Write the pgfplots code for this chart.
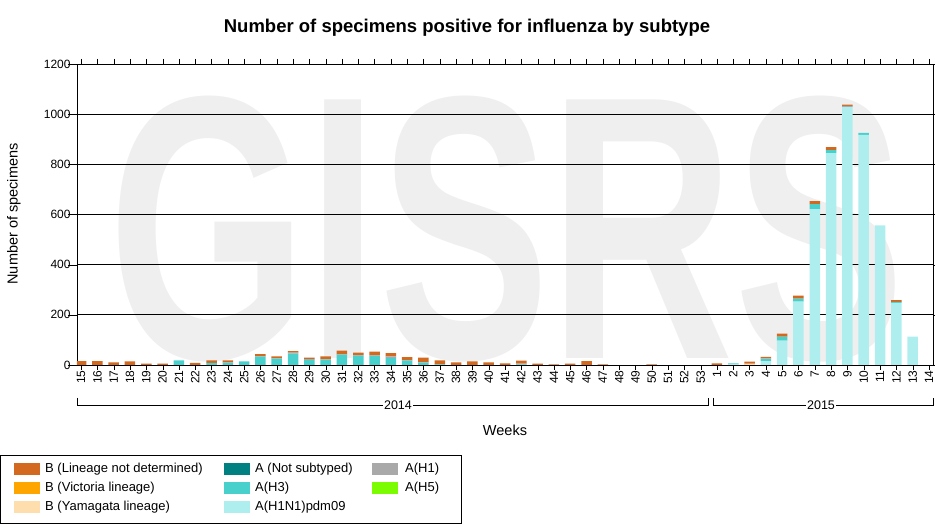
\documentclass[border=0pt]{standalone}
\usepackage{pgfplots}
\usepackage{pgfplotstable}
\pgfplotsset{compat=1.18}
\usepackage{fontspec}
\setmainfont{Liberation Sans}
\definecolor{cBLND}{HTML}{D2691E}
\definecolor{cVIC}{HTML}{FFA500}
\definecolor{cYAM}{HTML}{FFDEAD}
\definecolor{cNS}{HTML}{008080}
\definecolor{cH3}{HTML}{48D1CC}
\definecolor{cPDM}{HTML}{AFEEEE}
\definecolor{cH1}{HTML}{A9A9A9}
\definecolor{cH5}{HTML}{7CFC00}
\definecolor{wm}{HTML}{EFEFEF}
\pgfplotstableread{
x pdm h3 h1 ns yam vic blnd
0 0 0 0 0 0 0 15
1 0 0 0 0 0 0 15
2 0 0 0 0 0 0 10
3 0 0 0 0 0 0 14
4 0 0 0 0 0 0 5
5 0 0 0 0 0 0 5
6 0 18 0 0 0 0 0
7 0 0 0 0 0 0 8
8 0 7 1 0 0 0 10
9 0 8 2 0 0 0 8
10 0 14 0 0 0 0 0
11 0 33 2 0 0 0 8
12 0 25 1 0 0 0 8
13 0 45 4 0 0 0 6
14 0 20 3 0 0 0 6
15 0 21 1 0 0 0 12
16 0 41 1 0 0 0 15
17 0 37 2 0 0 0 10
18 0 36 2 0 0 0 15
19 0 28 6 0 0 0 13
20 0 17 2 0 0 0 12
21 0 9 2 0 0 0 18
22 0 2 0 0 0 0 16
23 0 0 0 0 0 0 10
24 0 0 0 0 0 0 14
25 0 0 0 0 0 0 10
26 0 0 0 0 0 0 6
27 0 2 3 0 0 0 12
28 0 0 0 0 0 0 5
29 0 0 0 0 0 0 2
30 0 0 0 0 0 0 5
31 0 0 0 0 0 0 15
32 0 0 0 0 0 0 2
33 0 0 0 0 0 0 0
34 0 0 0 0 0 0 0
35 0 0 0 0 0 0 2
36 0 0 0 0 0 0 0
37 0 0 0 0 0 0 0
38 0 0 0 0 0 0 0
39 0 0 0 0 0 0 6
40 3 3 0 0 0 0 0
41 0 0 0 0 5 0 8
42 15 8 3 0 0 0 6
43 97 16 0 0 0 0 12
44 253 12 0 0 0 0 12
45 621 20 0 0 0 0 12
46 845 12 0 0 0 0 12
47 1028 0 5 0 0 0 5
48 917 8 0 0 0 0 0
49 557 0 0 0 0 0 0
50 248 4 0 0 0 0 7
51 113 0 0 0 0 0 0
52 0 0 0 0 0 0 0
}\datatable
\begin{document}
\begin{tikzpicture}[x=1pt,y=1pt]
\path[use as bounding box] (0,0) rectangle (935,529);
% watermark
\node[wm, inner sep=0pt] at (507,300) {\resizebox{795pt}{262pt}{\bfseries GISRS}};
\begin{axis}[
  at={(77pt,164pt)}, anchor=south west,
  scale only axis, width=856pt, height=301pt,
  ybar stacked, bar width=10.5pt,
  xmin=-0.25, xmax=52.25, ymin=0, ymax=1200,
  ytick={0,200,400,600,800,1000,1200},
  xtick={0,...,52},
  xticklabels={15,16,17,18,19,20,21,22,23,24,25,26,27,28,29,30,31,32,33,34,35,36,37,38,39,40,41,42,43,44,45,46,47,48,49,50,51,52,53,1,2,3,4,5,6,7,8,9,10,11,12,13,14},
  tick align=outside,
  xtick style={black, /pgfplots/major tick length=5pt},
  ytick style={black, /pgfplots/major tick length=9pt},
  xticklabel style={rotate=90, anchor=east, inner sep=1pt, font=\fontsize{12}{14}\selectfont},
  yticklabel style={font=\fontsize{12}{14}\selectfont, inner sep=2pt},
  /pgf/number format/assume math mode=true,
  /pgf/number format/1000 sep={},
  ymajorgrids, grid style={black, line width=0.8pt},
  axis line style={black, line width=0.8pt},
  clip=true,
]
\addplot[fill=cPDM, draw=none] table[x=x,y=pdm]{\datatable};
\addplot[fill=cH3, draw=none] table[x=x,y=h3]{\datatable};
\addplot[fill=cH1, draw=none] table[x=x,y=h1]{\datatable};
\addplot[fill=cNS, draw=none] table[x=x,y=ns]{\datatable};
\addplot[fill=cYAM, draw=none] table[x=x,y=yam]{\datatable};
\addplot[fill=cVIC, draw=none] table[x=x,y=vic]{\datatable};
\addplot[fill=cBLND, draw=none] table[x=x,y=blnd]{\datatable};
\end{axis}
% title and labels
\node[font=\fontsize{18.5}{22}\selectfont\bfseries] at (467,501) {Number of specimens positive for influenza by subtype};
\node[rotate=90, font=\fontsize{14.5}{17}\selectfont] at (14,315) {Number of specimens};
\node[font=\fontsize{14.5}{17}\selectfont, inner sep=1pt] at (505,99) {Weeks};
% year brackets
\draw[black, line width=0.8pt] (77,131) -- (77,124) -- (708,124) -- (708,131);
\draw[black, line width=0.8pt] (713,131) -- (713,124) -- (933,124) -- (933,131);
\node[fill=white, inner sep=1pt, font=\fontsize{12.5}{14}\selectfont] at (398,124) {2014};
\node[fill=white, inner sep=1pt, font=\fontsize{12.5}{14}\selectfont] at (821,124) {2015};
% legend
\draw[black, line width=0.8pt] (0.5,6) rectangle (461,74);
\begin{scope}[every node/.style={anchor=west, inner sep=0pt, font=\fontsize{13}{15}\selectfont}]
\fill[cBLND] (14,54) rectangle (40,66); \node at (45,60) {B (Lineage not determined)};
\fill[cVIC] (14,35) rectangle (40,47); \node at (45,41) {B (Victoria lineage)};
\fill[cYAM] (14,16) rectangle (40,28); \node at (45,22) {B (Yamagata lineage)};
\fill[cNS] (224,54) rectangle (250,66); \node at (255,60) {A (Not subtyped)};
\fill[cH3] (224,35) rectangle (250,47); \node at (255,41) {A(H3)};
\fill[cPDM] (224,16) rectangle (250,28); \node at (255,22) {A(H1N1)pdm09};
\fill[cH1] (372,54) rectangle (398,66); \node at (405,60) {A(H1)};
\fill[cH5] (372,35) rectangle (398,47); \node at (405,41) {A(H5)};
\end{scope}
\end{tikzpicture}
\end{document}
